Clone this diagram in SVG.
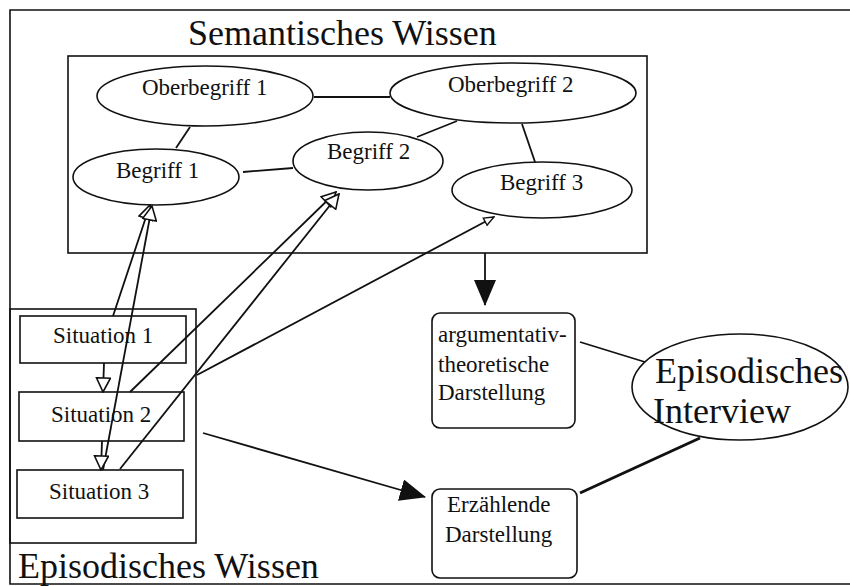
<svg xmlns="http://www.w3.org/2000/svg" width="850" height="586" viewBox="0 0 850 586">
<style>
text{font-family:"Liberation Serif","Times New Roman",serif;fill:#111}
.s{font-size:23px}
.b{font-size:36px}
.frame{fill:none;stroke:#111;stroke-width:1.6}
.node{fill:#fff;stroke:#111;stroke-width:1.6}
.box{fill:none;stroke:#111;stroke-width:1.6}
.ln{fill:none;stroke:#111;stroke-width:1.8}
.thick{fill:none;stroke:#111;stroke-width:3}
</style>
<defs>
<marker id="ho" viewBox="0 0 16 16" refX="15" refY="8" markerWidth="16" markerHeight="16" markerUnits="userSpaceOnUse" orient="auto">
<path d="M1,1 L15,8 L1,15 Z" fill="#fff" stroke="#111" stroke-width="1.6"/>
</marker>
<marker id="hs" viewBox="0 0 12 12" refX="11" refY="6" markerWidth="12" markerHeight="12" markerUnits="userSpaceOnUse" orient="auto">
<path d="M1,2 L11,6 L1,10 Z" fill="#fff" stroke="#111" stroke-width="1.4"/>
</marker>
<marker id="fa" viewBox="0 0 26 22" refX="25" refY="11" markerWidth="26" markerHeight="22" markerUnits="userSpaceOnUse" orient="auto">
<path d="M0,0 L26,11 L0,22 Z" fill="#111"/>
</marker>
</defs>

<g id="frame">
<path class="frame" d="M850,10 H10 V584 H850"/>
<text class="b" x="188" y="45">Semantisches Wissen</text>
<text class="b" x="18" y="578">Episodisches Wissen</text>
</g>

<g id="semantisches-wissen">
<rect class="frame" x="68" y="56" width="579" height="197"/>
</g>
<g id="episodisches-wissen">
<rect class="frame" x="10" y="309" width="186" height="234"/>
</g>

<g id="situation-1">
<rect class="box" x="20" y="316" width="166" height="47"/>
<text class="s" x="53" y="343">Situation 1</text>
</g>
<g id="situation-2">
<rect class="box" x="19" y="392" width="165" height="49"/>
<text class="s" x="51" y="422">Situation 2</text>
</g>
<g id="situation-3">
<rect class="box" x="17" y="470" width="166" height="48"/>
<text class="s" x="49" y="499">Situation 3</text>
</g>

<g id="connectors">
<line class="ln" x1="314" y1="97" x2="390" y2="97"/>
<line class="ln" x1="190" y1="127" x2="176" y2="148"/>
<line class="ln" x1="243" y1="172" x2="293" y2="168"/>
<line class="ln" x1="417" y1="137" x2="457" y2="121"/>
<line class="ln" x1="522" y1="124" x2="535" y2="162"/>
<line class="ln" x1="113" y1="316" x2="150" y2="205" marker-end="url(#ho)"/>
<line class="ln" x1="103" y1="470" x2="152" y2="206" marker-end="url(#ho)"/>
<line class="ln" x1="130" y1="392" x2="336" y2="192" marker-end="url(#ho)"/>
<line class="ln" x1="120" y1="469" x2="339" y2="194" marker-end="url(#ho)"/>
<line class="ln" x1="197" y1="375" x2="494" y2="217" marker-end="url(#hs)"/>
<line class="ln" x1="104" y1="363" x2="103" y2="392" marker-end="url(#ho)"/>
<line class="ln" x1="102" y1="441" x2="101" y2="470" marker-end="url(#ho)"/>
<line class="ln" x1="485" y1="253" x2="485" y2="305" marker-end="url(#fa)"/>
<line class="ln" x1="203" y1="433" x2="425" y2="497" marker-end="url(#fa)"/>
<line class="ln" x1="580" y1="342" x2="645" y2="362"/>
<line class="thick" x1="580" y1="493" x2="700" y2="438"/>
</g>

<g id="oberbegriff-1">
<ellipse class="node" cx="205" cy="96" rx="108" ry="30"/>
<text class="s" x="142" y="95">Oberbegriff 1</text>
</g>
<g id="oberbegriff-2">
<ellipse class="node" cx="513" cy="93" rx="123" ry="30"/>
<text class="s" x="448" y="92">Oberbegriff 2</text>
</g>
<g id="begriff-1">
<ellipse class="node" cx="156" cy="177" rx="83" ry="28"/>
<text class="s" x="116" y="178">Begriff 1</text>
</g>
<g id="begriff-2">
<ellipse class="node" cx="368" cy="161" rx="75" ry="29"/>
<text class="s" x="327" y="159">Begriff 2</text>
</g>
<g id="begriff-3">
<ellipse class="node" cx="542" cy="190" rx="90" ry="28"/>
<text class="s" x="500" y="190">Begriff 3</text>
</g>

<g id="argumentativ">
<rect class="node" x="432" y="313" width="143" height="115" rx="8"/>
<text class="s" x="438" y="342">argumentativ-</text>
<text class="s" x="438" y="372">theoretische</text>
<text class="s" x="438" y="400">Darstellung</text>
</g>
<g id="erzaehlende">
<rect class="node" x="432" y="489" width="145" height="89" rx="8"/>
<text class="s" x="447" y="512">Erzählende</text>
<text class="s" x="445" y="542">Darstellung</text>
</g>

<g id="episodisches-interview">
<ellipse class="node" cx="740" cy="387" rx="108" ry="53"/>
<text class="b" x="655" y="383">Episodisches</text>
<text class="b" x="653" y="423">Interview</text>
</g>
</svg>
